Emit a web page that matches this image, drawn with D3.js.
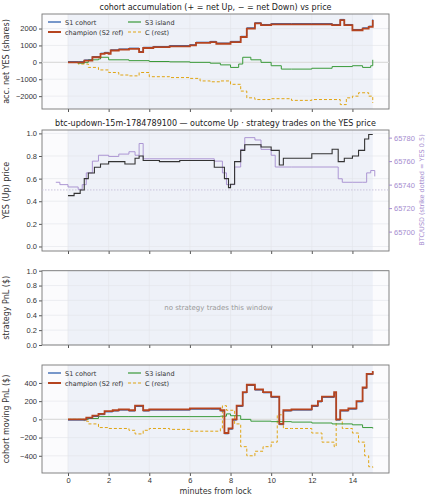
<!DOCTYPE html><html><head><meta charset="utf-8">
<script src="https://cdn.jsdelivr.net/npm/d3@7"></script>
<style>body{margin:0;background:#fff}svg{font-family:"DejaVu Sans",sans-serif}</style></head><body><svg id="c" width="429" height="500"></svg>
<script>
// ---- data ----
const accT = [0,0.5,0.8,1.2,1.6,1.8,2.0,2.1,2.5,3.0,3.5,3.7,4.2,5,6,6.3,7,7.3,8,8.5,8.8,9.2,9.5,10,11,12,13,13.4,13.6,14,14.5,14.8,15];
const accChamp = [0,0,100,300,500,550,500,700,750,800,600,850,900,950,1000,1150,1200,1100,1200,1500,2000,2300,2200,2250,2250,2250,2200,2500,2200,1900,2000,2100,2500];
const accS3T = [0,0.5,0.8,1.0,1.5,1.6,2,3,4,5,6,7,7.5,8,8.4,8.6,9,9.5,10,10.5,11,12,13,14,14.5,14.9,15];
const accS3 = [0,-50,0,150,200,300,150,100,50,30,0,-50,-150,-300,-100,300,150,0,-200,-400,-400,-350,-250,-200,-300,-200,150];
const accCT = [0,0.5,1.0,1.5,2,2.5,3,3.5,4,5,6,6.5,7,7.5,8,8.5,8.8,9.2,10,11,12,13,13.4,13.7,14,14.3,14.8,15];
const accC = [0,-100,-300,-450,-600,-750,-800,-600,-850,-900,-950,-1100,-1150,-1100,-1300,-1700,-2100,-2200,-2150,-2250,-2200,-2200,-2500,-2100,-2000,-1800,-2000,-2400];
const yesT = [0,0.3,0.6,0.8,1.0,1.3,1.6,2,2.8,3.3,3.5,3.7,4.5,5.5,7,7.2,7.7,7.9,8,8.2,8.5,8.7,9.2,9.5,10,10.4,10.6,11,12,13,13.3,13.6,14,14.3,14.6,14.8,15];
const yesP = [0.45,0.47,0.5,0.6,0.65,0.7,0.73,0.75,0.73,0.78,0.8,0.76,0.75,0.76,0.76,0.7,0.6,0.52,0.55,0.75,0.85,0.9,0.9,0.88,0.85,0.72,0.78,0.78,0.82,0.86,0.75,0.78,0.8,0.85,0.95,0.99,0.99];
const btcT = [-0.6,-0.4,0,0.5,0.7,0.9,1.2,1.5,2,2.5,3,3.3,3.5,3.7,4,6,7.2,7.6,7.8,8,8.2,8.5,8.7,9.2,9.5,10,10.2,11,12,13.3,13.5,14,14.5,14.7,14.9,15.1];
const btcP = [65742,65740,65738,65736,65740,65750,65760,65765,65764,65766,65768,65765,65775,65762,65762,65762,65760,65750,65740,65740,65755,65770,65780,65778,65770,65765,65755,65755,65755,65745,65742,65742,65742,65750,65752,65747];
const pnlT = [0,0.8,0.9,1.2,1.5,1.8,2.2,2.5,3,3.3,3.7,4,5,6,7,7.5,7.7,7.9,8.1,8.3,8.6,8.8,9.2,9.6,10,10.4,10.6,11,12,12.3,12.5,13.1,13.2,13.4,13.8,14.2,14.5,14.7,15];
const pnlChamp = [0,0,20,40,60,90,100,110,100,150,100,110,110,120,120,100,-150,-100,0,150,300,380,330,300,250,-50,100,110,150,200,250,300,0,100,120,200,350,500,530];
const pnlS3T = [0,0.8,1,1.5,3,6,7.5,7.8,8,8.5,9,10,11,12,13,14,14.5,15];
const pnlS3 = [0,0,10,30,30,30,35,60,40,0,-20,-25,-30,-40,-50,-60,-90,-100];
const pnlCT = [0,0.8,1,1.5,2,3,3.3,3.7,4,5,6,7,7.5,7.6,7.8,8,8.2,8.5,8.8,9.2,9.6,10,10.3,10.6,11,12,12.5,13.1,13.2,13.5,14,14.3,14.6,14.8,15];
const pnlC = [0,-20,-50,-90,-100,-120,-160,-120,-100,-110,-130,-130,-100,150,100,100,-50,-300,-400,-350,-300,-250,50,-100,-100,-150,-250,-300,0,-100,-150,-250,-400,-520,-530];
const xTicks = [0,2,4,6,8,10,12,14];

const svg = d3.select("#c");
const L=42, R=389;
const x = d3.scaleLinear().domain([-1.28,15.8]).range([L,R]);
const COL = {s1:"#2155a8", ch:"#b5441f", s3:"#3a9a3a", c:"#e0a514", purple:"#a58ccf"};
const zip=(t,v)=>t.map((d,i)=>[d,v[i]]);

function panel(top,bot,ydom,yticks,fmt,label,showX){
  const y=d3.scaleLinear().domain(ydom).range([bot,top]);
  const g=svg.append("g");
  g.append("rect").attr("x",L).attr("y",top).attr("width",R-L).attr("height",bot-top).attr("fill","#fbfbfd");
  g.append("rect").attr("x",x(0)).attr("y",top).attr("width",x(15)-x(0)).attr("height",bot-top).attr("fill","#eef1f8");
  xTicks.forEach(t=>g.append("line").attr("x1",x(t)).attr("x2",x(t)).attr("y1",top).attr("y2",bot).attr("stroke","#e2e4ea").attr("stroke-width",0.6));
  yticks.forEach(t=>g.append("line").attr("x1",L).attr("x2",R).attr("y1",y(t)).attr("y2",y(t)).attr("stroke","#e2e4ea").attr("stroke-width",0.6));
  const ya=g.append("g").attr("transform",`translate(${L},0)`).call(d3.axisLeft(y).tickValues(yticks).tickFormat(fmt).tickSize(3).tickPadding(2));
  const xa=g.append("g").attr("transform",`translate(0,${bot})`).call(d3.axisBottom(x).tickValues(xTicks).tickSize(3).tickPadding(2).tickFormat(showX?d3.format("d"):""));
  [ya,xa].forEach(a=>{a.select(".domain").remove();a.selectAll("text").attr("font-size",7.5).attr("fill","#333");a.selectAll("line").attr("stroke","#555");});
  g.append("text").attr("transform",`translate(9,${(top+bot)/2}) rotate(-90)`).attr("text-anchor","middle").attr("font-size",8).attr("fill","#333").text(label);
  g.append("rect").attr("x",L).attr("y",top).attr("width",R-L).attr("height",bot-top).attr("fill","none").attr("stroke","#777").attr("stroke-width",0.9);
  return {g,y};
}
function line(g,y,data,col,w,dash){
  g.append("path").datum(data).attr("fill","none").attr("stroke",col).attr("stroke-width",w).attr("stroke-dasharray",dash||null)
   .attr("d",d3.line().x(d=>x(d[0])).y(d=>y(d[1])).curve(d3.curveStepAfter));
}
function legend(g,top){
  const items=[["S1 cohort",COL.s1,1.2,null,48,top+8],["champion (S2 ref)",COL.ch,2,null,48,top+18],["S3 island",COL.s3,1.2,null,128,top+8],["C (rest)",COL.c,1.2,"3,2",128,top+18]];
  items.forEach(([t,c,w,d,lx,ly])=>{
    g.append("line").attr("x1",lx).attr("x2",lx+13).attr("y1",ly).attr("y2",ly).attr("stroke",c).attr("stroke-width",w).attr("stroke-dasharray",d);
    g.append("text").attr("x",lx+17).attr("y",ly+2.5).attr("font-size",6.5).attr("fill","#333").text(t);
  });
}
const title=(yy,t)=>svg.append("text").attr("x",(L+R)/2).attr("y",yy).attr("text-anchor","middle").attr("font-size",8).attr("fill","#222").text(t);

// panel 1
title(10,"cohort accumulation (+ = net Up, − = net Down) vs price");
let p=panel(14,109,[-2760,2860],[-2000,-1000,0,1000,2000],d3.format("d"),"acc. net YES (shares)",false);
p.g.append("line").attr("x1",L).attr("x2",R).attr("y1",p.y(0)).attr("y2",p.y(0)).attr("stroke","#ddd").attr("stroke-width",1.2);
line(p.g,p.y,zip(accCT,accC),COL.c,1,"3,2");
line(p.g,p.y,zip(accS3T,accS3),COL.s3,1);
line(p.g,p.y,zip(accT,accChamp).map(d=>[d[0],d[1]+40]),COL.s1,1);
line(p.g,p.y,zip(accT,accChamp),COL.ch,1.8);
legend(p.g,14);

// panel 2
title(126,"btc-updown-15m-1784789100 — outcome Up · strategy trades on the YES price");
p=panel(130,251,[-0.04,1.03],[0,0.2,0.4,0.6,0.8,1.0],d3.format(".1f"),"YES (Up) price",false);
const yb=d3.scaleLinear().domain([65683.5,65786.5]).range([251,130]);
p.g.append("line").attr("x1",L).attr("x2",R).attr("y1",p.y(0.5)).attr("y2",p.y(0.5)).attr("stroke","#c9c3dc").attr("stroke-width",1).attr("stroke-dasharray","1.5,1.5");
line(p.g,yb,zip(btcT,btcP),COL.purple,0.9);
line(p.g,p.y,zip(yesT,yesP),"#333",1.1);
const ra=p.g.append("g").attr("transform",`translate(${R},0)`).call(d3.axisRight(yb).tickValues([65700,65720,65740,65760,65780]).tickSize(3).tickPadding(2).tickFormat(d3.format("d")));
ra.select(".domain").remove();ra.selectAll("text").attr("font-size",7.5).attr("fill",COL.purple);ra.selectAll("line").attr("stroke",COL.purple);
p.g.append("text").attr("transform",`translate(424,190) rotate(-90)`).attr("text-anchor","middle").attr("font-size",6.5).attr("fill",COL.purple).text("BTC/USD (strike dotted = YES 0.5)");

// panel 3
p=panel(270.7,345,[0,1],[0,0.2,0.4,0.6,0.8,1.0],d3.format(".1f"),"strategy PnL ($)",false);
p.g.append("text").attr("x",(L+R)/2+3).attr("y",310).attr("text-anchor","middle").attr("font-size",7).attr("fill","#999").text("no strategy trades this window");

// panel 4
p=panel(365,473,[-589,597],[-400,-200,0,200,400],d3.format("d"),"cohort moving PnL ($)",true);
p.g.append("line").attr("x1",L).attr("x2",R).attr("y1",p.y(0)).attr("y2",p.y(0)).attr("stroke","#ddd").attr("stroke-width",1.2);
line(p.g,p.y,zip(pnlCT,pnlC),COL.c,1,"3,2");
line(p.g,p.y,zip(pnlS3T,pnlS3),COL.s3,1);
line(p.g,p.y,zip(pnlT,pnlChamp).map(d=>[d[0],d[1]-8]),COL.s1,1);
line(p.g,p.y,zip(pnlT,pnlChamp),COL.ch,1.8);
legend(p.g,365);
svg.append("text").attr("x",(L+R)/2).attr("y",494).attr("text-anchor","middle").attr("font-size",8).attr("fill","#333").text("minutes from lock");
</script></body></html>
